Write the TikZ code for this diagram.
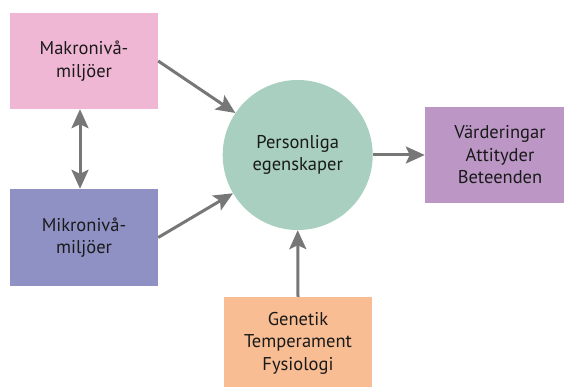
\documentclass[tikz,border=0pt]{standalone}
\usepackage{fontspec}
\setmainfont{PT Sans}
\usetikzlibrary{arrows.meta}
\definecolor{pinkc}{HTML}{F0B7D5}
\definecolor{bluec}{HTML}{8F91C4}
\definecolor{greenc}{HTML}{A8CFC0}
\definecolor{purplec}{HTML}{BC97C6}
\definecolor{orangec}{HTML}{F8BD93}
\definecolor{arrowgray}{HTML}{777777}
\definecolor{txt}{HTML}{1A1A1A}
\begin{document}
\begin{tikzpicture}[x=1pt,y=-1pt,
  box/.style={draw=none, minimum width=148pt, minimum height=96pt, align=center,
    inner sep=0pt, text=txt, font=\fontsize{18.5}{22.5}\selectfont},
  tip/.tip={Stealth[length=19pt,width=17pt,inset=4pt]},
  conn/.style={draw=arrowgray, line width=3pt, -tip},
]
\useasboundingbox (0,0) rectangle (564,387);
\node[box, fill=pinkc] (makro) at (84,61) {Makronivå-\\miljöer};
\node[box, fill=bluec, minimum height=97pt] (mikro) at (84,237.5) {Mikronivå-\\miljöer};
\node[box, circle, fill=greenc, minimum size=150pt, minimum height=150pt] (pers) at (297.7,155) {Personliga\\egenskaper};
\node[box, fill=purplec, minimum width=150pt, minimum height=96pt] (varde) at (500,155) {Värderingar\\Attityder\\Beteenden};
\node[box, fill=orangec, minimum width=148pt, minimum height=92pt] (gen) at (298,343) {Genetik\\Temperament\\Fysiologi};
\draw[conn, tip-tip] ([xshift=-4pt]makro.south) -- ([xshift=-4pt]mikro.north);
\draw[conn] (makro.east) -- (pers);
\draw[conn] (mikro.east) -- (pers);
\draw[conn] (pers.east) -- (varde.west);
\draw[conn] (gen.north) -- (pers.south);
\end{tikzpicture}
\end{document}
